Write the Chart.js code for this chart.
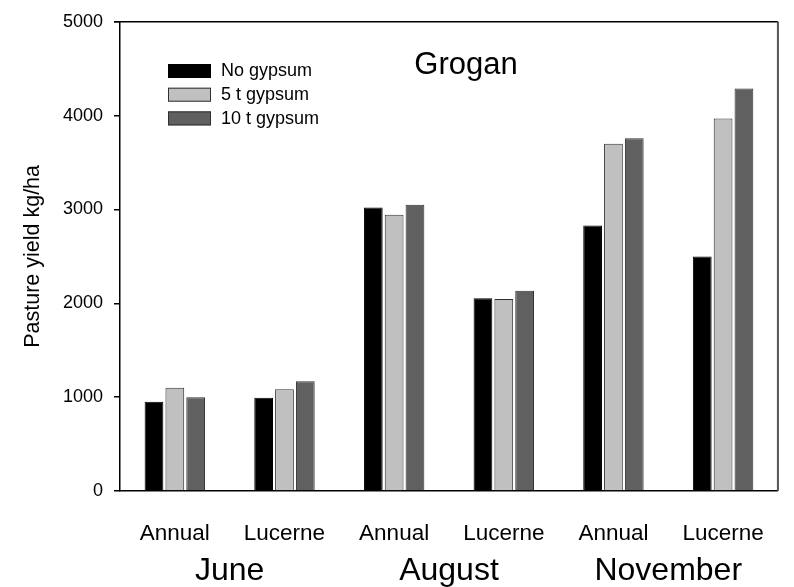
<!DOCTYPE html>
<html>
<head>
<meta charset="utf-8">
<script src="https://cdn.jsdelivr.net/npm/chart.js@4/dist/chart.umd.min.js"></script>
<style>
  html, body { margin: 0; padding: 0; background: #fff; }
  #wrap { width: 794px; height: 587px; }
</style>
</head>
<body>
<div id="wrap"><canvas id="c" width="794" height="587"></canvas></div>
<script>
const categories = ['Annual', 'Lucerne', 'Annual', 'Lucerne', 'Annual', 'Lucerne'];
const months = ['June', 'August', 'November'];
const seriesNames = ['No gypsum', '5 t gypsum', '10 t gypsum'];
const noGypsum = [950, 995, 3020, 2055, 2830, 2500];
const gypsum5 = [1100, 1085, 2945, 2045, 3700, 3970];
const gypsum10 = [1000, 1170, 3050, 2135, 3760, 4290];
const yTicks = [0, 1000, 2000, 3000, 4000, 5000];
const chartTitle = 'Grogan';
const yTitle = 'Pasture yield kg/ha';

const FONT = 'Arial, "Liberation Sans", sans-serif';
const fills = ['#000000', '#c0c0c0', '#606060'];
const borders = ['#000000', '#303030', '#303030'];

const framePlugin = {
  id: 'frame',
  afterDraw(chart) {
    const ctx = chart.ctx;
    const a = chart.chartArea;
    ctx.save();
    ctx.strokeStyle = '#000';
    ctx.lineWidth = 1.5;
    ctx.beginPath();
    ctx.moveTo(a.left - 6, a.top);
    ctx.lineTo(a.right, a.top);
    ctx.stroke();
    ctx.strokeStyle = '#555';
    ctx.lineWidth = 2;
    ctx.beginPath();
    ctx.moveTo(a.right, a.top);
    ctx.lineTo(a.right, a.bottom);
    ctx.stroke();
    ctx.fillStyle = '#000';
    ctx.font = '31px ' + FONT;
    ctx.textAlign = 'center';
    ctx.textBaseline = 'alphabetic';
    ctx.fillText(chartTitle, 466, 74);
    const ds = chart.data.datasets;
    ctx.font = '18px ' + FONT;
    ctx.textAlign = 'left';
    ctx.textBaseline = 'middle';
    for (let i = 0; i < ds.length; i++) {
      const y = 64 + i * 23.7;
      ctx.fillStyle = ds[i].backgroundColor;
      ctx.fillRect(168, y, 43, 14);
      ctx.strokeStyle = ds[i].borderColor;
      ctx.lineWidth = 1;
      ctx.strokeRect(168.5, y + 0.5, 42, 13);
      ctx.fillStyle = '#000';
      ctx.fillText(ds[i].label, 221, y + 7.5);
    }
    ctx.restore();
  }
};

new Chart(document.getElementById('c'), {
  type: 'bar',
  data: {
    labels: categories,
    datasets: [noGypsum, gypsum5, gypsum10].map((d, i) => ({
      label: seriesNames[i],
      data: d,
      backgroundColor: fills[i],
      borderColor: borders[i],
      borderWidth: 1,
      categoryPercentage: 0.57,
      barPercentage: 0.9
    }))
  },
  options: {
    responsive: false,
    animation: false,
    devicePixelRatio: 1,
    layout: { padding: { left: 0, top: 17, right: 15, bottom: 0 } },
    plugins: {
      legend: { display: false },
      title: { display: false },
      tooltip: { enabled: false }
    },
    scales: {
      x: {
        type: 'category',
        position: 'bottom',
        weight: 0,
        grid: { display: false, drawTicks: false },
        border: { display: true, color: '#000', width: 1.5 },
        ticks: { color: '#000', font: { family: FONT, size: 22.5 }, padding: 29, maxRotation: 0, autoSkip: false },
        afterFit(s) { s.height = 58; }
      },
      x2: {
        type: 'category',
        labels: months,
        position: 'bottom',
        weight: 1,
        offset: true,
        grid: { display: false, drawTicks: false },
        border: { display: false },
        ticks: { color: '#000', font: { family: FONT, size: 32 }, padding: 3, maxRotation: 0, autoSkip: false },
        afterFit(s) { s.height = 38; }
      },
      y: {
        min: 0,
        max: 5000,
        afterBuildTicks(s) { s.ticks = yTicks.map(v => ({ value: v })); },
        grid: { drawOnChartArea: false, drawTicks: true, tickLength: 6, color: '#000', lineWidth: 1.5 },
        border: { display: true, color: '#000', width: 1.5 },
        ticks: { color: '#000', font: { family: FONT, size: 18 }, padding: 11, callback: v => String(v) },
        title: { display: true, text: yTitle, color: '#000', font: { family: FONT, size: 21.5 }, padding: { top: 20, bottom: 0 } },
        afterFit(s) { s.width = 120; }
      }
    }
  },
  plugins: [framePlugin]
});
</script>
</body>
</html>
